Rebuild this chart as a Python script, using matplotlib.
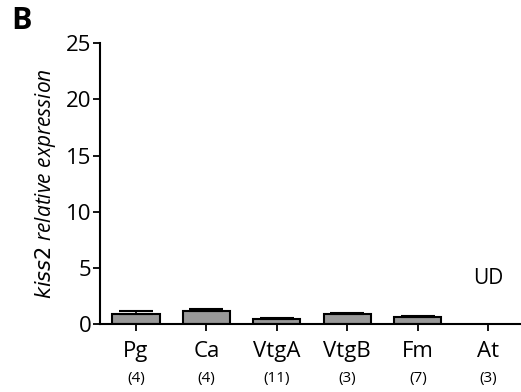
import matplotlib.pyplot as plt
import numpy as np

plt.rcParams['font.family'] = ['Open Sans', 'DejaVu Sans']

groups = ["Pg", "Ca", "VtgA", "VtgB", "Fm", "At"]
counts = ["(4)", "(4)", "(11)", "(3)", "(7)", "(3)"]
means = [0.95, 1.13, 0.45, 0.88, 0.6, 0.0]
sem = [0.23, 0.2, 0.08, 0.15, 0.15, 0.0]

fig = plt.figure(figsize=(5.21, 3.92), dpi=100)
ax = fig.add_axes([0.192, 0.173, 0.806, 0.717])

x = np.arange(len(groups))
ax.bar(x[:5], means[:5], 0.67, color='#999999', edgecolor='black', linewidth=1.5, zorder=2)
ax.errorbar(x[:5], means[:5], yerr=[np.zeros(5), sem[:5]], fmt='none', ecolor='black',
            elinewidth=1.2, capsize=12, capthick=1.5, zorder=3)
ax.text(x[5], 4.1, "UD", ha='center', va='center', fontsize=15)

ax.set_xlim(-0.51, 5.45)
ax.set_ylim(0, 25)
ax.set_yticks([0, 5, 10, 15, 20, 25])
ax.set_xticks(x)
ax.set_xticklabels(groups, fontsize=16)
ax.tick_params(axis='y', labelsize=16, width=1.3, length=5, pad=1)
ax.tick_params(axis='x', width=1.3, length=5, pad=7)
for i, c in enumerate(counts):
    ax.text(x[i], -0.195, c, transform=ax.get_xaxis_transform(), ha='center', va='center', fontsize=11)

for s in ['top', 'right']:
    ax.spines[s].set_visible(False)
for s in ['left', 'bottom']:
    ax.spines[s].set_linewidth(1.5)

ax.set_ylabel(r"$\it{kiss2}$ relative expression", fontsize=15, style='italic', labelpad=6)
fig.text(0.022, 0.985, "B", fontsize=22, fontweight='bold', va='top', ha='left')

fig.savefig("out.png", dpi=100)
